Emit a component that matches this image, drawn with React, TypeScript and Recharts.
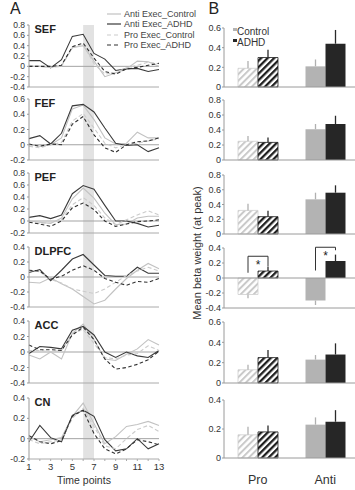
import React from 'react';
import {
  LineChart,
  Line,
  XAxis,
  YAxis,
  ReferenceLine,
  ReferenceArea,
  BarChart,
  Bar,
  Cell,
  ErrorBar,
  Legend,
} from 'recharts';

const FONT = '"Liberation Sans", Arial, Helvetica, sans-serif';

// ---------- Panel A: event-related time courses ----------
const timePoints = [1, 2, 3, 4, 5, 6, 7, 8, 9, 10, 11, 12, 13];
const timeTickLabels = ['1', '3', '5', '7', '9', '11', '13'];
const peakWindow = [6, 7];

const regionNames = ['SEF', 'FEF', 'PEF', 'DLPFC', 'ACC', 'CN'];

const sefAntiControl = [0.0, 0.0, -0.02, 0.02, 0.36, 0.4, 0.1, -0.2, -0.13, -0.05, 0.1, 0.09, 0.0];
const sefAntiAdhd = [0.11, 0.11, -0.03, 0.13, 0.58, 0.62, 0.25, 0.14, -0.08, -0.05, -0.04, -0.1, -0.06];
const sefProControl = [0.02, 0.0, -0.02, 0.0, 0.36, 0.42, 0.05, -0.15, -0.12, -0.03, 0.02, 0.08, 0.05];
const sefProAdhd = [0.0, 0.0, 0.0, 0.02, 0.38, 0.45, 0.16, -0.1, -0.15, -0.05, -0.02, 0.02, 0.06];

const fefAntiControl = [0.0, -0.02, 0.0, 0.09, 0.47, 0.52, 0.33, 0.09, 0.01, 0.02, 0.165, 0.09, 0.09];
const fefAntiAdhd = [0.08, 0.12, 0.01, 0.15, 0.51, 0.53, 0.43, 0.22, 0.02, -0.01, 0.0, -0.09, -0.04];
const fefProControl = [-0.02, -0.04, 0.0, 0.03, 0.31, 0.41, 0.22, 0.02, -0.04, 0.0, 0.02, 0.05, 0.08];
const fefProAdhd = [0.01, -0.02, 0.01, 0.0, 0.27, 0.37, 0.13, -0.04, -0.1, 0.0, 0.04, 0.05, 0.09];

const pefAntiControl = [0.0, -0.02, -0.04, 0.05, 0.37, 0.55, 0.38, 0.13, -0.06, -0.05, 0.05, 0.08, 0.08];
const pefAntiAdhd = [0.06, 0.09, 0.04, 0.1, 0.455, 0.59, 0.53, 0.26, 0.0, 0.0, -0.04, -0.1, -0.07];
const pefProControl = [-0.02, -0.04, -0.03, 0.02, 0.27, 0.39, 0.26, 0.05, -0.06, 0.02, 0.1, 0.17, 0.1];
const pefProAdhd = [-0.02, -0.05, -0.09, 0.0, 0.22, 0.3, 0.19, 0.0, -0.09, -0.05, -0.01, 0.0, 0.02];

const dlpfcAntiControl = [-0.07, -0.08, -0.01, -0.09, -0.16, -0.26, -0.36, -0.31, -0.16, -0.02, 0.09, 0.18, 0.11];
const dlpfcAntiAdhd = [0.06, 0.1, -0.05, 0.09, 0.24, 0.3, 0.16, 0.02, 0.01, 0.01, 0.13, 0.05, 0.05];
const dlpfcProControl = [0.09, 0.07, -0.03, -0.08, -0.16, -0.19, -0.22, -0.16, -0.07, 0.02, 0.08, 0.13, 0.08];
const dlpfcProAdhd = [0.09, 0.08, -0.03, 0.01, 0.09, 0.15, 0.09, -0.02, -0.07, -0.11, -0.06, -0.07, -0.02];

const accAntiControl = [-0.04, -0.09, 0.0, -0.09, 0.24, 0.36, 0.16, -0.09, -0.11, -0.03, 0.04, 0.16, 0.09];
const accAntiAdhd = [-0.02, 0.07, 0.06, 0.04, 0.28, 0.33, 0.22, 0.0, -0.07, 0.0, -0.05, -0.07, 0.02];
const accProControl = [0.02, 0.02, 0.0, 0.02, 0.24, 0.29, 0.11, -0.07, -0.09, -0.04, -0.02, 0.08, 0.02];
const accProAdhd = [0.09, 0.03, 0.03, 0.02, 0.22, 0.32, 0.16, -0.09, -0.22, -0.2, -0.16, -0.1, 0.01];

const cnAntiControl = [0.02, -0.03, -0.01, 0.01, 0.22, 0.35, 0.15, -0.05, 0.02, 0.12, 0.14, 0.17, 0.13];
const cnAntiAdhd = [-0.03, 0.13, 0.01, -0.03, 0.23, 0.28, 0.22, -0.01, -0.12, -0.1, 0.0, -0.1, -0.05];
const cnProControl = [-0.01, -0.05, -0.03, -0.01, 0.2, 0.3, 0.12, -0.07, -0.1, 0.0, 0.09, 0.13, 0.07];
const cnProAdhd = [0.03, -0.03, -0.05, -0.02, 0.22, 0.28, 0.05, -0.1, -0.15, -0.1, -0.01, -0.03, -0.06];

const lineSeries = [
  [sefAntiControl, sefAntiAdhd, sefProControl, sefProAdhd],
  [fefAntiControl, fefAntiAdhd, fefProControl, fefProAdhd],
  [pefAntiControl, pefAntiAdhd, pefProControl, pefProAdhd],
  [dlpfcAntiControl, dlpfcAntiAdhd, dlpfcProControl, dlpfcProAdhd],
  [accAntiControl, accAntiAdhd, accProControl, accProAdhd],
  [cnAntiControl, cnAntiAdhd, cnProControl, cnProAdhd],
];

const lineDomains = [
  [-0.4, 0.8],
  [-0.2, 0.6],
  [-0.2, 0.8],
  [-0.4, 0.4],
  [-0.4, 0.4],
  [-0.2, 0.4],
];

// ---------- Panel B: peak beta weights ----------
const conditions = ['Pro', 'Anti'];
const controlPeak = [
  [0.19, 0.21],
  [0.25, 0.41],
  [0.32, 0.47],
  [-0.22, -0.3],
  [0.13, 0.23],
  [0.16, 0.23],
];
const adhdPeak = [
  [0.3, 0.44],
  [0.235, 0.48],
  [0.235, 0.56],
  [0.093, 0.227],
  [0.25, 0.28],
  [0.18, 0.25],
];
const controlSem = [
  [0.075, 0.07],
  [0.07, 0.07],
  [0.09, 0.09],
  [0.05, 0.06],
  [0.05, 0.045],
  [0.055, 0.05],
];
const adhdSem = [
  [0.08, 0.14],
  [0.065, 0.11],
  [0.08, 0.1],
  [0.055, 0.085],
  [0.075, 0.11],
  [0.045, 0.08],
];
const barDomains = [
  [0, 0.6],
  [0, 0.8],
  [0, 0.8],
  [-0.4, 0.4],
  [0, 0.6],
  [0, 0.4],
];

// DLPFC group-difference brackets (Pro, Anti)
const sigTop = [0.29, 0.41];
const sigControlFoot = [0.07, 0.1];
const sigAdhdFoot = [0.15, 0.37];
const SIG_REGION = 3;

// ---------- layout ----------
const lineTops = [25, 99, 173, 247, 321, 398];
const lineBottoms = [87, 160, 233, 307, 383, 459];
const barTops = [28, 100, 175, 248, 322, 400];
const barBottoms = [87, 160, 234, 308, 383, 458];

const CONTROL_GRAY = '#b3b3b3';
const ADHD_DARK = '#262626';

const lineStyles = [
  { key: 'antiControl', name: 'Anti Exec_Control', stroke: '#c2c2c2', dash: undefined as string | undefined, width: 1.1 },
  { key: 'antiAdhd', name: 'Anti Exec_ADHD', stroke: '#3a3a3a', dash: undefined as string | undefined, width: 1.1 },
  { key: 'proControl', name: 'Pro Exec_Control', stroke: '#cbcbcb', dash: '4 2.5', width: 1.1 },
  { key: 'proAdhd', name: 'Pro Exec_ADHD', stroke: '#303030', dash: '3.5 2.5', width: 1.1 },
];

const makeTicks = (lo: number, hi: number) => {
  const n = Math.round((hi - lo) / 0.2);
  return Array.from({ length: n + 1 }, (_, i) => Math.round((lo + i * 0.2) * 10) / 10);
};
const fmt = (v: number) => (Math.abs(v) < 1e-9 ? '0' : v.toFixed(1));

const renderLineLegend = () => (
  <div style={{ fontFamily: FONT, fontSize: 9, color: '#444', whiteSpace: 'nowrap' }}>
    {lineStyles.map((s) => (
      <div key={s.key} style={{ display: 'flex', alignItems: 'center', height: 10.3 }}>
        <svg width={14} height={6} style={{ marginLeft: 1, marginRight: 3 }}>
          <line x1={0} y1={3} x2={14} y2={3} stroke={s.stroke} strokeWidth={1.2} strokeDasharray={s.dash ? '4 3' : undefined} />
        </svg>
        <span>{s.name}</span>
      </div>
    ))}
  </div>
);

const renderBarLegend = () => (
  <div style={{ fontFamily: FONT, fontSize: 10, color: '#333', lineHeight: '11px', whiteSpace: 'nowrap' }}>
    {[
      { name: 'Control', color: CONTROL_GRAY },
      { name: 'ADHD', color: ADHD_DARK },
    ].map((d) => (
      <div key={d.name} style={{ height: 11 }}>
        <span
          style={{
            display: 'inline-block',
            width: 3.5,
            height: 3.5,
            background: d.color,
            verticalAlign: 'top',
            marginTop: 1.5,
            marginRight: 0.5,
          }}
        />
        {d.name}
      </div>
    ))}
  </div>
);

function LinePanel({ index }: { index: number }) {
  const series = lineSeries[index];
  const top = index === 0 ? 0 : lineTops[index] - 6;
  const mt = lineTops[index] - top;
  const plotH = lineBottoms[index] - lineTops[index];
  const isLast = index === regionNames.length - 1;
  const xh = isLast ? 14 : 3;
  const mb = isLast ? 0 : 4;
  const data = timePoints.map((t, i) => ({
    t,
    antiControl: series[0][i],
    antiAdhd: series[1][i],
    proControl: series[2][i],
    proAdhd: series[3][i],
  }));
  const [lo, hi] = lineDomains[index];
  return (
    <div style={{ position: 'absolute', left: 0, top }}>
      <LineChart width={165} height={mt + plotH + xh + mb} data={data} margin={{ top: mt, right: 6, bottom: mb, left: 0 }}>
        <XAxis
          dataKey="t"
          type="number"
          domain={[1, 13]}
          ticks={timePoints}
          interval={0}
          height={xh}
          tickSize={2}
          tickMargin={2}
          axisLine={{ stroke: '#aaa' }}
          tickLine={{ stroke: '#aaa' }}
          tick={isLast ? { fontSize: 9.5, fill: '#333', fontFamily: FONT } : false}
          tickFormatter={(v: number) => (timeTickLabels.includes(String(v)) ? String(v) : '')}
        />
        <YAxis
          type="number"
          domain={[lo, hi]}
          ticks={makeTicks(lo, hi)}
          interval={0}
          width={29}
          tickSize={2}
          tickMargin={2}
          axisLine={{ stroke: '#999' }}
          tickLine={{ stroke: '#999' }}
          tick={{ fontSize: 8.5, fill: '#333', fontFamily: FONT }}
          tickFormatter={fmt}
        />
        <ReferenceLine y={0} stroke="#a3a3a3" strokeWidth={1} />
        {lineStyles.map((s) => (
          <Line
            key={s.key}
            dataKey={s.key}
            name={s.name}
            type="linear"
            stroke={s.stroke}
            strokeWidth={s.width}
            strokeDasharray={s.dash}
            dot={false}
            activeDot={false}
            isAnimationActive={false}
          />
        ))}
        {index === 0 && (
          <Legend
            layout="vertical"
            align="center"
            verticalAlign="middle"
            content={renderLineLegend}
            wrapperStyle={{ left: 106, top: 9, width: 'auto' }}
          />
        )}
      </LineChart>
    </div>
  );
}

const renderBracket = (props: any) => {
  const { x, y, width, height, index, value } = props;
  if (typeof index !== 'number' || !value) return null;
  const nx = Number(x);
  const ny = Number(y);
  const w = Number(width);
  const h = Number(height);
  const base = ny + h;
  const perUnit = h / Number(value);
  const yAt = (v: number) => base - v * perUnit;
  const cLeft = nx - w / 2;
  const cRight = nx + w / 2;
  const yTop = yAt(sigTop[index]);
  return (
    <g>
      <path
        d={`M${cLeft},${yAt(sigControlFoot[index])} V${yTop} H${cRight} V${yAt(sigAdhdFoot[index])}`}
        fill="none"
        stroke="#333"
        strokeWidth={1}
      />
      <text x={(cLeft + cRight) / 2} y={yTop + 13} textAnchor="middle" fontSize={12} fill="#222" fontFamily={FONT}>
        *
      </text>
    </g>
  );
};

function BarPanel({ index }: { index: number }) {
  const top = index === 0 ? 0 : barTops[index] - 6;
  const mt = barTops[index] - top;
  const plotH = barBottoms[index] - barTops[index];
  const isLast = index === regionNames.length - 1;
  const xh = isLast ? 32 : 1;
  const mb = isLast ? 0 : 5;
  const [lo, hi] = barDomains[index];
  const data = conditions.map((c, j) => {
    const cv = controlPeak[index][j];
    const av = adhdPeak[index][j];
    const ce = controlSem[index][j];
    const ae = adhdSem[index][j];
    return {
      condition: c,
      control: cv,
      adhd: av,
      controlErr: cv < 0 ? [ce, 0] : [0, ce],
      adhdErr: av < 0 ? [ae, 0] : [0, ae],
    };
  });
  return (
    <div style={{ position: 'absolute', left: 194, top }}>
      <BarChart
        width={165}
        height={mt + plotH + xh + mb}
        data={data}
        margin={{ top: mt, right: 0, bottom: mb, left: 0 }}
        barGap={0}
        barSize={20}
      >
        <XAxis
          dataKey="condition"
          type="category"
          height={xh}
          interval={0}
          axisLine={{ stroke: '#9a9a9a' }}
          tickLine={false}
          tickSize={0}
          tickMargin={17}
          tick={isLast ? { fontSize: 12.5, fill: '#333', fontFamily: FONT } : false}
        />
        <YAxis
          type="number"
          domain={[lo, hi]}
          ticks={makeTicks(lo, hi)}
          interval={0}
          width={30}
          tickSize={2}
          tickMargin={1}
          axisLine={{ stroke: '#9a9a9a' }}
          tickLine={{ stroke: '#9a9a9a' }}
          tick={{ fontSize: 9, fill: '#333', fontFamily: FONT }}
          tickFormatter={fmt}
        />
        {lo < 0 && <ReferenceLine y={0} stroke="#9a9a9a" strokeWidth={1} />}
        <Bar dataKey="control" name="Control" fill={CONTROL_GRAY} isAnimationActive={false}>
          {data.map((d, j) => (
            <Cell
              key={d.condition}
              fill={j === 0 ? 'url(#hatchLight)' : CONTROL_GRAY}
              stroke={j === 0 ? '#cfcfcf' : 'none'}
              strokeWidth={0.8}
            />
          ))}
          <ErrorBar dataKey="controlErr" width={0} stroke="#b0b0b0" strokeWidth={1.3} direction="y" />
        </Bar>
        <Bar
          dataKey="adhd"
          name="ADHD"
          fill={ADHD_DARK}
          isAnimationActive={false}
          label={index === SIG_REGION ? renderBracket : false}
        >
          {data.map((d, j) => (
            <Cell
              key={d.condition}
              fill={j === 0 ? 'url(#hatchDark)' : ADHD_DARK}
              stroke={j === 0 ? '#1e1e1e' : 'none'}
              strokeWidth={0.8}
            />
          ))}
          <ErrorBar dataKey="adhdErr" width={0} stroke="#2a2a2a" strokeWidth={1.3} direction="y" />
        </Bar>
        {index === 0 && (
          <Legend
            layout="vertical"
            align="center"
            verticalAlign="middle"
            content={renderBarLegend}
            wrapperStyle={{ left: 39, top: 26, width: 'auto' }}
          />
        )}
      </BarChart>
    </div>
  );
}

// one full-height chart that carries the shaded peak window behind every time-course panel
const bandData = timePoints.map((t) => ({ t, level: 0.5 }));

export default function App() {
  return (
    <div
      style={{
        position: 'absolute',
        left: 0,
        top: 0,
        width: 355,
        height: 490,
        overflow: 'hidden',
        background: '#fff',
        fontFamily: FONT,
      }}
    >
      <svg width={0} height={0} style={{ position: 'absolute' }}>
        <defs>
          <pattern id="hatchDark" patternUnits="userSpaceOnUse" width={4.6} height={4.6} patternTransform="rotate(45)">
            <rect width={4.6} height={4.6} fill="#fff" />
            <rect width={2.3} height={4.6} fill="#1e1e1e" />
          </pattern>
          <pattern id="hatchLight" patternUnits="userSpaceOnUse" width={4.6} height={4.6} patternTransform="rotate(45)">
            <rect width={4.6} height={4.6} fill="#fff" />
            <rect width={2} height={4.6} fill="#c9c9c9" />
          </pattern>
        </defs>
      </svg>

      <div style={{ position: 'absolute', left: 0, top: 0 }}>
        <LineChart width={165} height={490} data={bandData} margin={{ top: 25, right: 6, bottom: 31, left: 29 }}>
          <XAxis dataKey="t" type="number" domain={[1, 13]} hide />
          <YAxis type="number" domain={[0, 1]} hide />
          <ReferenceArea
            x1={peakWindow[0]}
            x2={peakWindow[1]}
            y1={0}
            y2={1}
            fill="#e2e2e2"
            fillOpacity={1}
            stroke="none"
            ifOverflow="visible"
          />
          <Line dataKey="level" stroke="none" dot={false} activeDot={false} isAnimationActive={false} />
        </LineChart>
      </div>

      {regionNames.map((name, i) => (
        <LinePanel key={`l-${name}`} index={i} />
      ))}
      {regionNames.map((name, i) => (
        <BarPanel key={`b-${name}`} index={i} />
      ))}

      {regionNames.map((name, i) => (
        <div
          key={`t-${name}`}
          style={{
            position: 'absolute',
            left: 34.5,
            top: lineTops[i] - 1,
            fontSize: 11,
            lineHeight: 1,
            fontWeight: 'bold',
            color: '#222',
          }}
        >
          {name}
        </div>
      ))}

      <div style={{ position: 'absolute', left: 10, top: 1, fontSize: 16, lineHeight: 1, color: '#222' }}>A</div>
      <div style={{ position: 'absolute', left: 208.5, top: 1, fontSize: 16, lineHeight: 1, color: '#222' }}>B</div>

      <div style={{ position: 'absolute', left: 57, top: 475, fontSize: 10.5, lineHeight: 1, color: '#333', whiteSpace: 'nowrap' }}>
        Time points
      </div>

      <div
        style={{
          position: 'absolute',
          left: 197,
          top: 253,
          fontSize: 11,
          lineHeight: 1,
          color: '#333',
          whiteSpace: 'nowrap',
          transform: 'translate(-50%, -50%) rotate(-90deg)',
        }}
      >
        Mean beta weight (at peak)
      </div>
    </div>
  );
}
